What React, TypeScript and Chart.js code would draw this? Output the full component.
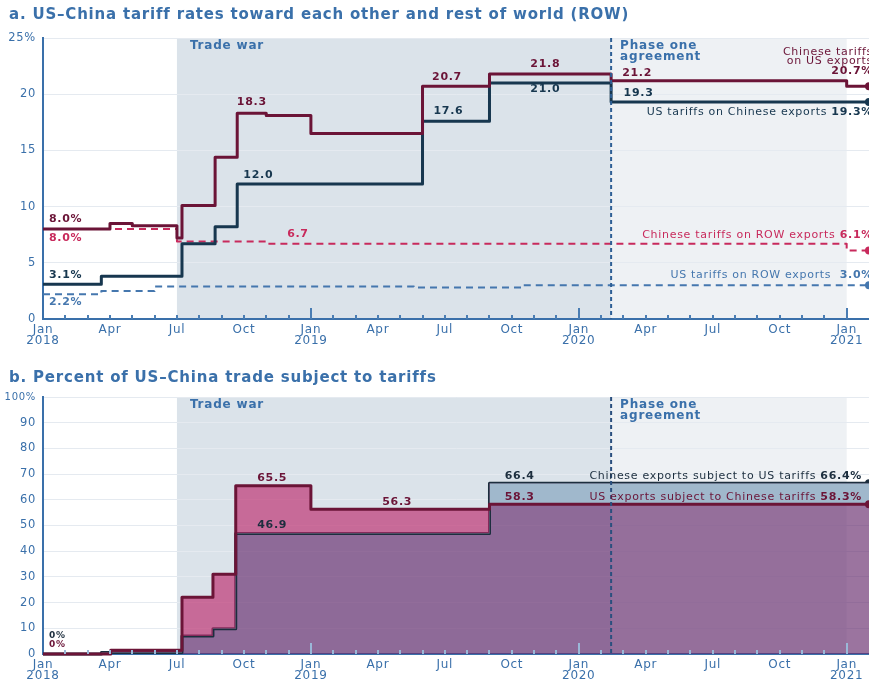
import React, { useEffect, useRef } from 'react';
import { Chart, registerables } from 'chart.js';

Chart.register(...registerables);

// ---------- axis / calendar ----------
const START_YEAR = 2018;
const X_END = '2021-02-01';
const QUARTER_NAMES = ['Jan', 'Apr', 'Jul', 'Oct'];
const YEAR_NAMES = ['2018', '2019', '2020', '2021'];
const QUARTER_TICKS = [0, 3, 6, 9, 12, 15, 18, 21, 24, 27, 30, 33, 36];
const MONTH_TICKS = [1, 2, 3, 4, 5, 6, 7, 8, 9, 10, 11, 12, 13, 14, 15, 16, 17, 18, 19, 20, 21, 22, 23, 24, 25, 26, 27, 28, 29, 30, 31, 32, 33, 34, 35, 36];

const TRADE_WAR_START = '2018-07-01';
const PHASE_ONE = '2020-02-14';
const PHASE_SHADE_END = '2021-01-01';

// ---------- panel a: tariff rates (%) ----------
const CN_ON_US_DATES = ['2018-01-01', '2018-04-01', '2018-05-01', '2018-07-01', '2018-07-08', '2018-08-23', '2018-09-22', '2018-11-01', '2019-01-01', '2019-06-01', '2019-09-01', '2020-02-14', '2021-01-01', '2021-02-01'];
const CN_ON_US_RATES = [8.0, 8.5, 8.3, 7.2, 10.1, 14.4, 18.3, 18.1, 16.5, 20.7, 21.8, 21.2, 20.7, 20.7];

const US_ON_CN_DATES = ['2018-01-01', '2018-03-20', '2018-07-08', '2018-08-23', '2018-09-22', '2019-06-01', '2019-09-01', '2020-02-14', '2021-02-01'];
const US_ON_CN_RATES = [3.1, 3.8, 6.7, 8.2, 12.0, 17.6, 21.0, 19.3, 19.3];

const CN_ON_ROW_DATES = ['2018-01-01', '2018-07-01', '2018-11-01', '2021-01-01', '2021-02-01'];
const CN_ON_ROW_RATES = [8.0, 6.9, 6.7, 6.1, 6.1];

const US_ON_ROW_DATES = ['2018-01-01', '2018-03-20', '2018-06-01', '2019-05-20', '2019-10-15', '2021-02-01'];
const US_ON_ROW_RATES = [2.2, 2.5, 2.9, 2.8, 3.0, 3.0];

// ---------- panel b: share of trade subject to tariffs (%) ----------
const US_EXP_DATES = ['2018-01-01', '2018-04-02', '2018-07-08', '2018-08-20', '2018-09-20', '2019-01-01', '2019-09-01', '2021-02-01'];
const US_EXP_SHARE = [0, 1.5, 22.1, 31.0, 65.5, 56.3, 58.3, 58.3];

const CN_EXP_DATES = ['2018-01-01', '2018-03-20', '2018-07-08', '2018-08-20', '2018-09-20', '2019-09-01', '2021-02-01'];
const CN_EXP_SHARE = [0, 0.6, 7.0, 9.8, 46.9, 66.4, 66.4];

// ---------- styles ----------
const FONT = '"DejaVu Sans", sans-serif';
const STEEL = '#3a70aa';
const MAROON = '#6b1437';
const NAVY = '#17374f';
const NAVY_B = '#1c2e3e';
const CRIMSON = '#c82a5c';
const ROW_BLUE = '#4577ae';
const PINK = 'rgba(189, 42, 108, 0.65)';
const PURPLE = 'rgba(102, 42, 108, 0.65)';
const LIGHT_BLUE = '#a0b8cc';
const TRADE_WAR_BG = '#dbe3ea';
const PHASE_BG = '#eef1f4';

function toMonths(d: string): number {
  const [y, m, day] = d.split('-').map(Number);
  const dim = new Date(y, m, 0).getDate();
  return (y - START_YEAR) * 12 + (m - 1) + (day - 1) / dim;
}

function series(dates: string[], values: number[]) {
  return dates.map((d, i) => ({ x: toMonths(d), y: values[i] }));
}

type Run = [string, boolean];
type Label = { date: string; value: number; dx: number; dy: number; align: 'left' | 'center' | 'right'; color: string; size: number; runs: Run[] };

const A_LABELS: Label[] = [
  { date: '2018-01-01', value: 8.0, dx: 6, dy: -10, align: 'left', color: MAROON, size: 11, runs: [['8.0%', true]] },
  { date: '2018-01-01', value: 8.0, dx: 6, dy: 9.5, align: 'left', color: CRIMSON, size: 11, runs: [['8.0%', true]] },
  { date: '2018-01-01', value: 3.1, dx: 6, dy: -9.5, align: 'left', color: NAVY, size: 11, runs: [['3.1%', true]] },
  { date: '2018-01-01', value: 2.2, dx: 6, dy: 8, align: 'left', color: ROW_BLUE, size: 11, runs: [['2.2%', true]] },
  { date: '2018-10-12', value: 18.3, dx: 0, dy: -11, align: 'center', color: MAROON, size: 11, runs: [['18.3', true]] },
  { date: '2018-10-21', value: 12.0, dx: 0, dy: -9, align: 'center', color: NAVY, size: 11, runs: [['12.0', true]] },
  { date: '2018-12-14', value: 6.7, dx: 0, dy: -9.5, align: 'center', color: CRIMSON, size: 11, runs: [['6.7', true]] },
  { date: '2019-07-04', value: 20.7, dx: 0, dy: -9, align: 'center', color: MAROON, size: 11, runs: [['20.7', true]] },
  { date: '2019-07-06', value: 17.6, dx: 0, dy: -10, align: 'center', color: NAVY, size: 11, runs: [['17.6', true]] },
  { date: '2019-11-16', value: 21.8, dx: 0, dy: -10, align: 'center', color: MAROON, size: 11, runs: [['21.8', true]] },
  { date: '2019-11-16', value: 21.0, dx: 0, dy: 6.5, align: 'center', color: NAVY, size: 11, runs: [['21.0', true]] },
  { date: '2020-03-20', value: 21.2, dx: 0, dy: -7.5, align: 'center', color: MAROON, size: 11, runs: [['21.2', true]] },
  { date: '2020-03-22', value: 19.3, dx: 0, dy: -9, align: 'center', color: NAVY, size: 11, runs: [['19.3', true]] },
  { date: X_END, value: 20.7, dx: 4, dy: -34, align: 'right', color: MAROON, size: 11, runs: [['Chinese tariffs', false]] },
  { date: X_END, value: 20.7, dx: 4, dy: -25, align: 'right', color: MAROON, size: 11, runs: [['on US exports', false]] },
  { date: X_END, value: 20.7, dx: 4, dy: -15, align: 'right', color: MAROON, size: 11, runs: [['20.7%', true]] },
  { date: X_END, value: 19.3, dx: 4, dy: 10, align: 'right', color: NAVY, size: 11, runs: [['US tariffs on Chinese exports ', false], ['19.3%', true]] },
  { date: X_END, value: 6.1, dx: 4, dy: -15, align: 'right', color: CRIMSON, size: 11, runs: [['Chinese tariffs on ROW exports ', false], ['6.1%', true]] },
  { date: X_END, value: 3.0, dx: 4, dy: -10, align: 'right', color: ROW_BLUE, size: 11, runs: [['US tariffs on ROW exports  ', false], ['3.0%', true]] },
];

const B_LABELS: Label[] = [
  { date: '2018-01-01', value: 0, dx: 6, dy: -18, align: 'left', color: NAVY_B, size: 9, runs: [['0%', true]] },
  { date: '2018-01-01', value: 0, dx: 6, dy: -9, align: 'left', color: MAROON, size: 9, runs: [['0%', true]] },
  { date: '2018-11-09', value: 65.5, dx: 0, dy: -7.5, align: 'center', color: MAROON, size: 11, runs: [['65.5', true]] },
  { date: '2018-11-09', value: 46.9, dx: 0, dy: -8, align: 'center', color: NAVY_B, size: 11, runs: [['46.9', true]] },
  { date: '2019-04-27', value: 56.3, dx: 0, dy: -7.5, align: 'center', color: MAROON, size: 11, runs: [['56.3', true]] },
  { date: '2019-10-12', value: 66.4, dx: 0, dy: -7.5, align: 'center', color: NAVY_B, size: 11, runs: [['66.4', true]] },
  { date: '2019-10-12', value: 58.3, dx: 0, dy: -7, align: 'center', color: MAROON, size: 11, runs: [['58.3', true]] },
  { date: X_END, value: 66.4, dx: -7, dy: -7.5, align: 'right', color: NAVY_B, size: 11, runs: [['Chinese exports subject to US tariffs ', false], ['66.4%', true]] },
  { date: X_END, value: 58.3, dx: -7, dy: -7, align: 'right', color: MAROON, size: 11, runs: [['US exports subject to Chinese tariffs ', false], ['58.3%', true]] },
];

function drawRuns(ctx: CanvasRenderingContext2D, runs: Run[], x: number, y: number, align: string, size: number, color: string) {
  ctx.fillStyle = color;
  ctx.textBaseline = 'middle';
  ctx.textAlign = 'left';
  const widths = runs.map(([t, b]) => {
    ctx.font = `${b ? 'bold ' : ''}${size}px ${FONT}`;
    return ctx.measureText(t).width;
  });
  const total = widths.reduce((s, w) => s + w, 0);
  let cx = align === 'left' ? x : align === 'center' ? x - total / 2 : x - total;
  runs.forEach(([t, b], i) => {
    ctx.font = `${b ? 'bold ' : ''}${size}px ${FONT}`;
    ctx.fillText(t, cx, y);
    cx += widths[i];
  });
}

type PanelCfg = {
  key: string;
  title: string;
  titleY: number;
  canvasH: number;
  top: number;
  bottom: number;
  yMax: number;
  yStep: number;
  tickColor: string;
  phaseColor: string;
  labels: Label[];
};

function decorPlugin(cfg: PanelCfg) {
  return {
    id: 'decor' + cfg.key,
    beforeDraw(chart: any) {
      const { ctx, chartArea: a } = chart;
      const x = chart.scales.x;
      ctx.save();
      const bands = [
        { from: TRADE_WAR_START, to: PHASE_ONE, color: TRADE_WAR_BG },
        { from: PHASE_ONE, to: PHASE_SHADE_END, color: PHASE_BG },
      ];
      for (const b of bands) {
        const x0 = x.getPixelForValue(toMonths(b.from));
        const x1 = x.getPixelForValue(toMonths(b.to));
        ctx.fillStyle = b.color;
        ctx.fillRect(x0, a.top, x1 - x0, a.bottom - a.top);
      }
      ctx.restore();
      try { (ctx as any).letterSpacing = '0.7px'; } catch (e) {}
    },
    afterDatasetsDraw(chart: any) {
      const { ctx, chartArea: a } = chart;
      const x = chart.scales.x;
      const y = chart.scales.y;
      ctx.save();
      ctx.strokeStyle = cfg.tickColor;
      ctx.lineWidth = 2;
      for (const m of MONTH_TICKS) {
        const px = Math.round(x.getPixelForValue(m));
        const len = m % 12 === 0 ? 11 : 4;
        ctx.beginPath();
        ctx.moveTo(px, a.bottom);
        ctx.lineTo(px, a.bottom - len);
        ctx.stroke();
      }
      const pp = x.getPixelForValue(toMonths(PHASE_ONE));
      ctx.setLineDash([4, 3]);
      ctx.strokeStyle = cfg.phaseColor;
      ctx.lineWidth = 2;
      ctx.beginPath();
      ctx.moveTo(pp, a.top);
      ctx.lineTo(pp, a.bottom);
      ctx.stroke();
      ctx.setLineDash([]);
      try { ctx.letterSpacing = '0.8px'; } catch (e) {}
      const tw = x.getPixelForValue(toMonths(TRADE_WAR_START));
      drawRuns(ctx, [['Trade war', true]], tw + 13, a.top + 8, 'left', 12, STEEL);
      drawRuns(ctx, [['Phase one', true]], pp + 9, a.top + 8, 'left', 12, STEEL);
      drawRuns(ctx, [['agreement', true]], pp + 9, a.top + 19, 'left', 12, STEEL);
      try { ctx.letterSpacing = '0.7px'; } catch (e) {}
      for (const l of cfg.labels) {
        drawRuns(ctx, l.runs, x.getPixelForValue(toMonths(l.date)) + l.dx, y.getPixelForValue(l.value) + l.dy, l.align, l.size, l.color);
      }
      ctx.restore();
    },
    afterDraw(chart: any) {
      const { ctx } = chart;
      ctx.save();
      try { ctx.letterSpacing = '0.8px'; } catch (e) {}
      drawRuns(ctx, [[cfg.title, true]], 9, cfg.titleY, 'left', 15, STEEL);
      ctx.restore();
    },
  };
}

function baseOptions(cfg: PanelCfg): any {
  return {
    responsive: false,
    maintainAspectRatio: false,
    animation: false,
    events: [],
    layout: { padding: { top: cfg.top, left: 0, right: 0, bottom: 0 }, autoPadding: false },
    plugins: { legend: { display: false }, tooltip: { enabled: false }, title: { display: false } },
    scales: {
      x: {
        type: 'linear',
        min: 0,
        max: toMonths(X_END),
        afterBuildTicks: (s: any) => { s.ticks = QUARTER_TICKS.map((v) => ({ value: v })); },
        afterFit: (s: any) => { s.height = cfg.canvasH - cfg.bottom; },
        grid: { display: false, drawTicks: false },
        border: { display: true, color: STEEL, width: 2 },
        ticks: {
          autoSkip: false,
          maxRotation: 0,
          padding: 6,
          color: STEEL,
          font: { family: FONT, size: 12, lineHeight: 0.88 },
          callback: (v: number) => {
            const m = Math.round(v);
            const q = QUARTER_NAMES[(m % 12) / 3];
            return m % 12 === 0 ? [q, YEAR_NAMES[m / 12]] : q;
          },
        },
      },
      y: {
        min: 0,
        max: cfg.yMax,
        afterFit: (s: any) => { s.width = 43; },
        grid: { color: '#e5eaf0', lineWidth: 1, drawTicks: false },
        border: { display: true, color: STEEL, width: 2 },
        ticks: {
          stepSize: cfg.yStep,
          padding: 7,
          color: STEEL,
          font: (c: any) => ({ family: FONT, size: c.tick && c.tick.value === 100 ? 10 : 11.5 }),
          callback: (v: number) => (v === cfg.yMax ? `${v}%` : `${v}`),
        },
      },
    },
  };
}

const PANEL_A: PanelCfg = {
  key: 'a',
  title: 'a. US–China tariff rates toward each other and rest of world (ROW)',
  titleY: 15,
  canvasH: 360,
  top: 38,
  bottom: 319,
  yMax: 25,
  yStep: 5,
  tickColor: '#4a7db3',
  phaseColor: '#2e5f95',
  labels: A_LABELS,
};

const PANEL_B: PanelCfg = {
  key: 'b',
  title: 'b. Percent of US–China trade subject to tariffs',
  titleY: 18,
  canvasH: 337,
  top: 37,
  bottom: 294,
  yMax: 100,
  yStep: 10,
  tickColor: '#9ab8d8',
  phaseColor: '#2a4f7e',
  labels: B_LABELS,
};

function stepLine(label: string, data: { x: number; y: number }[], color: string, width: number, dash: number[]) {
  return {
    label,
    data,
    borderColor: color,
    backgroundColor: color,
    borderWidth: width,
    borderDash: dash,
    stepped: true,
    fill: false,
    clip: false,
    borderJoinStyle: 'round',
    pointRadius: (c: any) => (c.dataIndex === data.length - 1 ? 4 : 0),
    pointHoverRadius: 0,
    pointBorderWidth: 0,
    pointBackgroundColor: color,
  };
}

function ChartA() {
  const ref = useRef<HTMLCanvasElement>(null);
  useEffect(() => {
    const chart = new Chart(ref.current as HTMLCanvasElement, {
      type: 'line',
      data: {
        datasets: [
          stepLine('Chinese tariffs on US exports', series(CN_ON_US_DATES, CN_ON_US_RATES), MAROON, 3, []),
          stepLine('US tariffs on Chinese exports', series(US_ON_CN_DATES, US_ON_CN_RATES), NAVY, 3, []),
          stepLine('Chinese tariffs on ROW exports', series(CN_ON_ROW_DATES, CN_ON_ROW_RATES), CRIMSON, 2, [7, 5]),
          stepLine('US tariffs on ROW exports', series(US_ON_ROW_DATES, US_ON_ROW_RATES), ROW_BLUE, 2, [7, 5]),
        ] as any,
      },
      options: baseOptions(PANEL_A),
      plugins: [decorPlugin(PANEL_A)],
    });
    return () => chart.destroy();
  }, []);
  return <canvas ref={ref} width={869} height={360} style={{ width: 869, height: 360, display: 'block' }} />;
}

function ChartB() {
  const ref = useRef<HTMLCanvasElement>(null);
  useEffect(() => {
    const us = stepLine('US exports subject to Chinese tariffs', series(US_EXP_DATES, US_EXP_SHARE), MAROON, 3, []) as any;
    us.fill = { target: 1, above: PINK, below: LIGHT_BLUE };
    const cn = stepLine('Chinese exports subject to US tariffs', series(CN_EXP_DATES, CN_EXP_SHARE), NAVY_B, 3, []) as any;
    cn.fill = { target: 'origin', above: PURPLE, below: PURPLE };
    const chart = new Chart(ref.current as HTMLCanvasElement, {
      type: 'line',
      data: { datasets: [us, cn] },
      options: baseOptions(PANEL_B),
      plugins: [decorPlugin(PANEL_B)],
    });
    return () => chart.destroy();
  }, []);
  return <canvas ref={ref} width={869} height={337} style={{ width: 869, height: 337, display: 'block' }} />;
}

export default function App() {
  return (
    <div style={{ position: 'fixed', left: 0, top: 0, width: 869, height: 697, background: '#ffffff', overflow: 'hidden' }}>
      <div style={{ position: 'absolute', left: 0, top: 0 }}>
        <ChartA />
      </div>
      <div style={{ position: 'absolute', left: 0, top: 360 }}>
        <ChartB />
      </div>
    </div>
  );
}
